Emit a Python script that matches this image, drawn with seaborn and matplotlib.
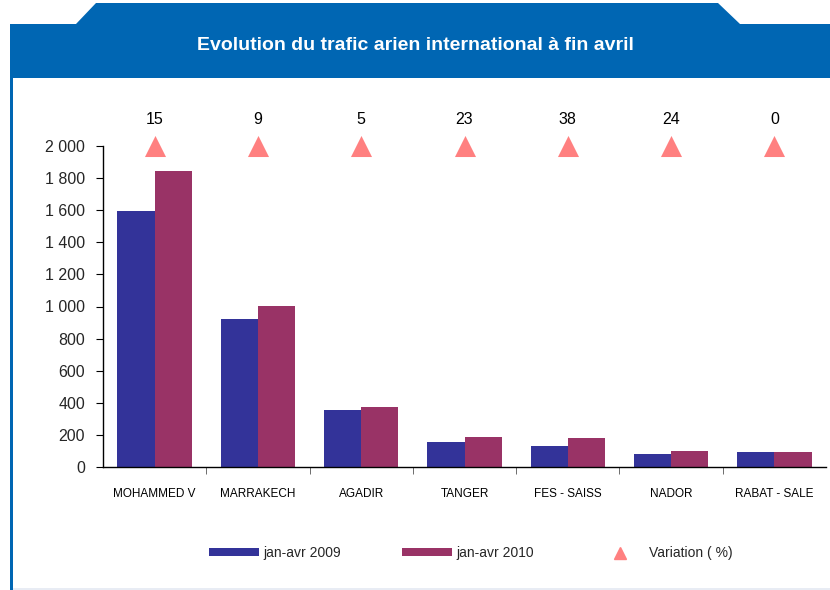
import matplotlib
matplotlib.use('Agg')
import matplotlib.pyplot as plt
from matplotlib.patches import Polygon, Rectangle
from matplotlib.lines import Line2D
from matplotlib.ticker import FuncFormatter, FixedLocator
import numpy as np
import pandas as pd
import seaborn as sns

#---------------------------------------------------------------
airports = ['MOHAMMED V', 'MARRAKECH', 'AGADIR', 'TANGER', 'FES - SAISS', 'NADOR', 'RABAT - SALE']
traffic_2009 = [1595, 920, 355, 155, 130, 80, 95]
traffic_2010 = [1845, 1005, 375, 190, 180, 100, 95]
variation = [15, 9, 5, 23, 38, 24, 0]
series = ['jan-avr 2009', 'jan-avr 2010']

c2009 = '#333399'
c2010 = '#993366'
ctri = '#FF8080'
blue = '#0066B3'

W, H = 830, 590


def px(x, y):
    return (x / W, 1 - y / H)


#---------------------------------------------------------------
def main():
    sns.set_theme(style='white')
    plt.rcParams['font.family'] = ['Liberation Sans', 'DejaVu Sans']

    df = pd.DataFrame({
        'airport': airports * 2,
        'traffic': traffic_2009 + traffic_2010,
        'period': [series[0]] * len(airports) + [series[1]] * len(airports),
    })

    fig = plt.figure(figsize=(8.3, 5.9), dpi=100)

    # header band and frame
    tab = [px(10, 24), px(76, 24), px(96, 3), px(718, 3), px(740, 24),
           px(830, 24), px(830, 78), px(10, 78)]
    fig.patches.append(Polygon(tab, closed=True, transform=fig.transFigure,
                               facecolor=blue, edgecolor='none', zorder=0))
    fig.patches.append(Rectangle(px(10, 590), 3 / W, (590 - 24) / H, transform=fig.transFigure,
                                 facecolor=blue, edgecolor='none', zorder=0))
    fig.patches.append(Rectangle(px(13, 590), (830 - 13) / W, 2 / H, transform=fig.transFigure,
                                 facecolor='#E8ECF4', edgecolor='none', zorder=0))
    fig.text(*px(415, 45), 'Evolution du trafic arien international à fin avril',
             ha='center', va='center', color='white', fontsize=14, fontweight='bold')

    l, r = px(103, 0)[0], px(826, 0)[0]
    b, t = px(0, 467)[1], px(0, 146)[1]
    ax = fig.add_axes([l, b, r - l, t - b])

    sns.barplot(data=df, x='airport', y='traffic', hue='period',
                palette=[c2009, c2010], width=0.72, gap=0, saturation=1,
                linewidth=0, ax=ax, legend=True)

    ax.set_xlim(-0.5, len(airports) - 0.5)
    ax.set_ylim(0, 2000)
    ax.set_yticks(np.arange(0, 2001, 200))
    ax.yaxis.set_major_formatter(FuncFormatter(lambda v, p: f'{int(v):,}'.replace(',', ' ')))
    ax.tick_params(axis='y', labelsize=11.5, length=5, width=0.8, color='black',
                   direction='out', left=True, pad=8)
    ax.set_xticks(range(len(airports)))
    ax.set_xticklabels(airports, fontsize=8.5, color='black')
    ax.tick_params(axis='x', which='major', length=0, pad=15)
    ax.xaxis.set_minor_locator(FixedLocator(np.arange(0.5, len(airports) - 0.5, 1)))
    ax.tick_params(axis='x', which='minor', length=5, width=0.6, color='#555555',
                   direction='out', bottom=True)
    ax.set_xlabel('')
    ax.set_ylabel('')
    for s in ['top', 'right']:
        ax.spines[s].set_visible(False)
    for s in ['left', 'bottom']:
        ax.spines[s].set_color('black')
        ax.spines[s].set_linewidth(1.0)

    # variation markers above plot
    xs = np.arange(len(airports))
    ax.scatter(xs, [1.0] * len(xs), marker='^', s=230, color=ctri, linewidths=0,
               transform=ax.get_xaxis_transform(), clip_on=False, zorder=5)
    for x, v in zip(xs, variation):
        ax.annotate(str(v), (x, 1.0), xycoords=ax.get_xaxis_transform(),
                    xytext=(0, 14), textcoords='offset points',
                    ha='center', va='bottom', fontsize=11.5, color='black')

    handles, labels = ax.get_legend_handles_labels()
    ax.get_legend().remove()
    tri = Line2D([], [], marker='^', linestyle='none', color=ctri, markersize=8)
    fig.legend(handles + [tri], labels + ['Variation ( %)'], ncol=3,
               loc='center', bbox_to_anchor=px(471, 553), frameon=False,
               fontsize=10, handlelength=3.6, handleheight=0.5,
               columnspacing=4.4, handletextpad=0.3)

    fig.savefig('out.png', dpi=100)


#---------------------------------------------------------------
if __name__ == '__main__':
    main()
